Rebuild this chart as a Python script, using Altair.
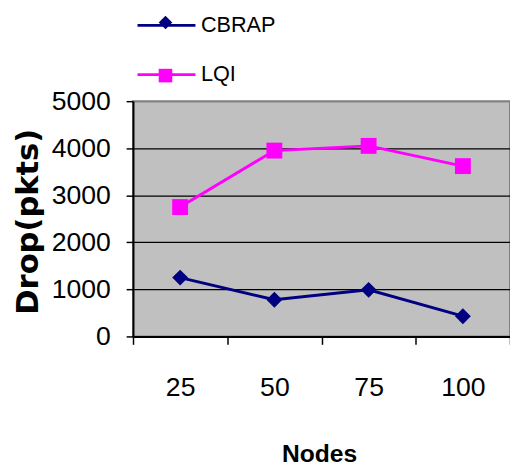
import altair as alt
import pandas as pd

nodes = ["25", "50", "75", "100"]
cbrap = [1250, 780, 990, 430]
lqi = [2750, 3950, 4050, 3620]
series_names = ["CBRAP", "LQI"]
series_colors = ["#000080", "#FF00FF"]
series_shapes = ["diamond", "square"]
y_ticks = [0, 1000, 2000, 3000, 4000, 5000]

rows = []
for name, vals in zip(series_names, [cbrap, lqi]):
    for n, v in zip(nodes, vals):
        rows.append({"Nodes": n, "Drop": v, "Series": name, "Marker": name})
df = pd.DataFrame(rows)

SANS = "Liberation Sans, Arial, sans-serif"
WIDE_BOLD = "DejaVu Sans, Verdana, sans-serif"

x_enc = alt.X(
    "Nodes:N",
    sort=nodes,
    scale=alt.Scale(type="band", paddingInner=0, paddingOuter=0),
    axis=alt.Axis(
        title="Nodes",
        labelAngle=0,
        tickBand="extent",
        tickSize=8,
        tickColor="black",
        tickWidth=1.5,
        domainColor="black",
        domainWidth=2,
        labelFont=SANS,
        labelFontSize=27,
        labelColor="black",
        labelPadding=31,
        titleFont=SANS,
        titleFontSize=25,
        titleFontWeight="bold",
        titleColor="black",
        titleBaseline="alphabetic",
        titleX=189,
        titleY=127,
        grid=False,
    ),
)

y_enc = alt.Y(
    "Drop:Q",
    scale=alt.Scale(domain=[0, 5000], nice=False),
    axis=alt.Axis(
        title="Drop(pkts)",
        values=y_ticks,
        format="d",
        tickSize=7,
        tickColor="black",
        tickWidth=1.5,
        domainColor="black",
        domainWidth=2,
        labelFont=SANS,
        labelFontSize=27,
        labelColor="black",
        labelPadding=16,
        grid=True,
        gridColor={"condition": {"test": "datum.value === 5000", "value": "#808080"}, "value": "black"},
        gridWidth=1.2,
        titleFont=WIDE_BOLD,
        titleFontSize=31,
        titleFontWeight="bold",
        titleColor="black",
        titleAngle=270,
        titleBaseline="alphabetic",
        titleAlign="center",
        titleX=-97,
        titleY=122,
    ),
)

line_legend = alt.Legend(
    orient="none",
    legendX=5,
    legendY=-106,
    title=None,
    direction="vertical",
    symbolType="M-1.07,0L1.07,0",
    symbolSize=3025,
    symbolStrokeWidth=3,
    labelFont=SANS,
    labelFontSize=22,
    labelColor="black",
    labelOffset=6,
    rowPadding=10,
    padding=0,
)

marker_legend = alt.Legend(
    orient="none",
    legendX=26,
    legendY=-87,
    title=None,
    direction="vertical",
    symbolSize=190,
    symbolStrokeWidth=0,
    symbolOpacity=1,
    labelFontSize=1,
    labelOpacity=0,
    rowPadding=40,
    padding=0,
)

lines = alt.Chart(df).mark_line(strokeWidth=3).encode(
    x=x_enc,
    y=y_enc,
    color=alt.Color("Series:N", scale=alt.Scale(domain=series_names, range=series_colors), legend=line_legend),
    detail="Series:N",
)

points = alt.Chart(df).mark_point(filled=True, opacity=1, strokeWidth=0, size=260).encode(
    x=x_enc,
    y=y_enc,
    shape=alt.Shape("Marker:N", scale=alt.Scale(range=series_shapes), legend=marker_legend),
    fill=alt.Fill("Marker:N", scale=alt.Scale(range=series_colors), legend=marker_legend),
)

chart = (
    alt.layer(lines, points)
    .properties(
        width=383,
        height=239,
        padding={"left": 127, "top": 91, "right": 0, "bottom": 130},
        autosize=alt.AutoSizeParams(type="none"),
        background="white",
    )
    .configure_view(fill="#C0C0C0", stroke="#808080", strokeWidth=2)
)

chart.save("out.html", embed_options={"renderer": "svg", "actions": False})
